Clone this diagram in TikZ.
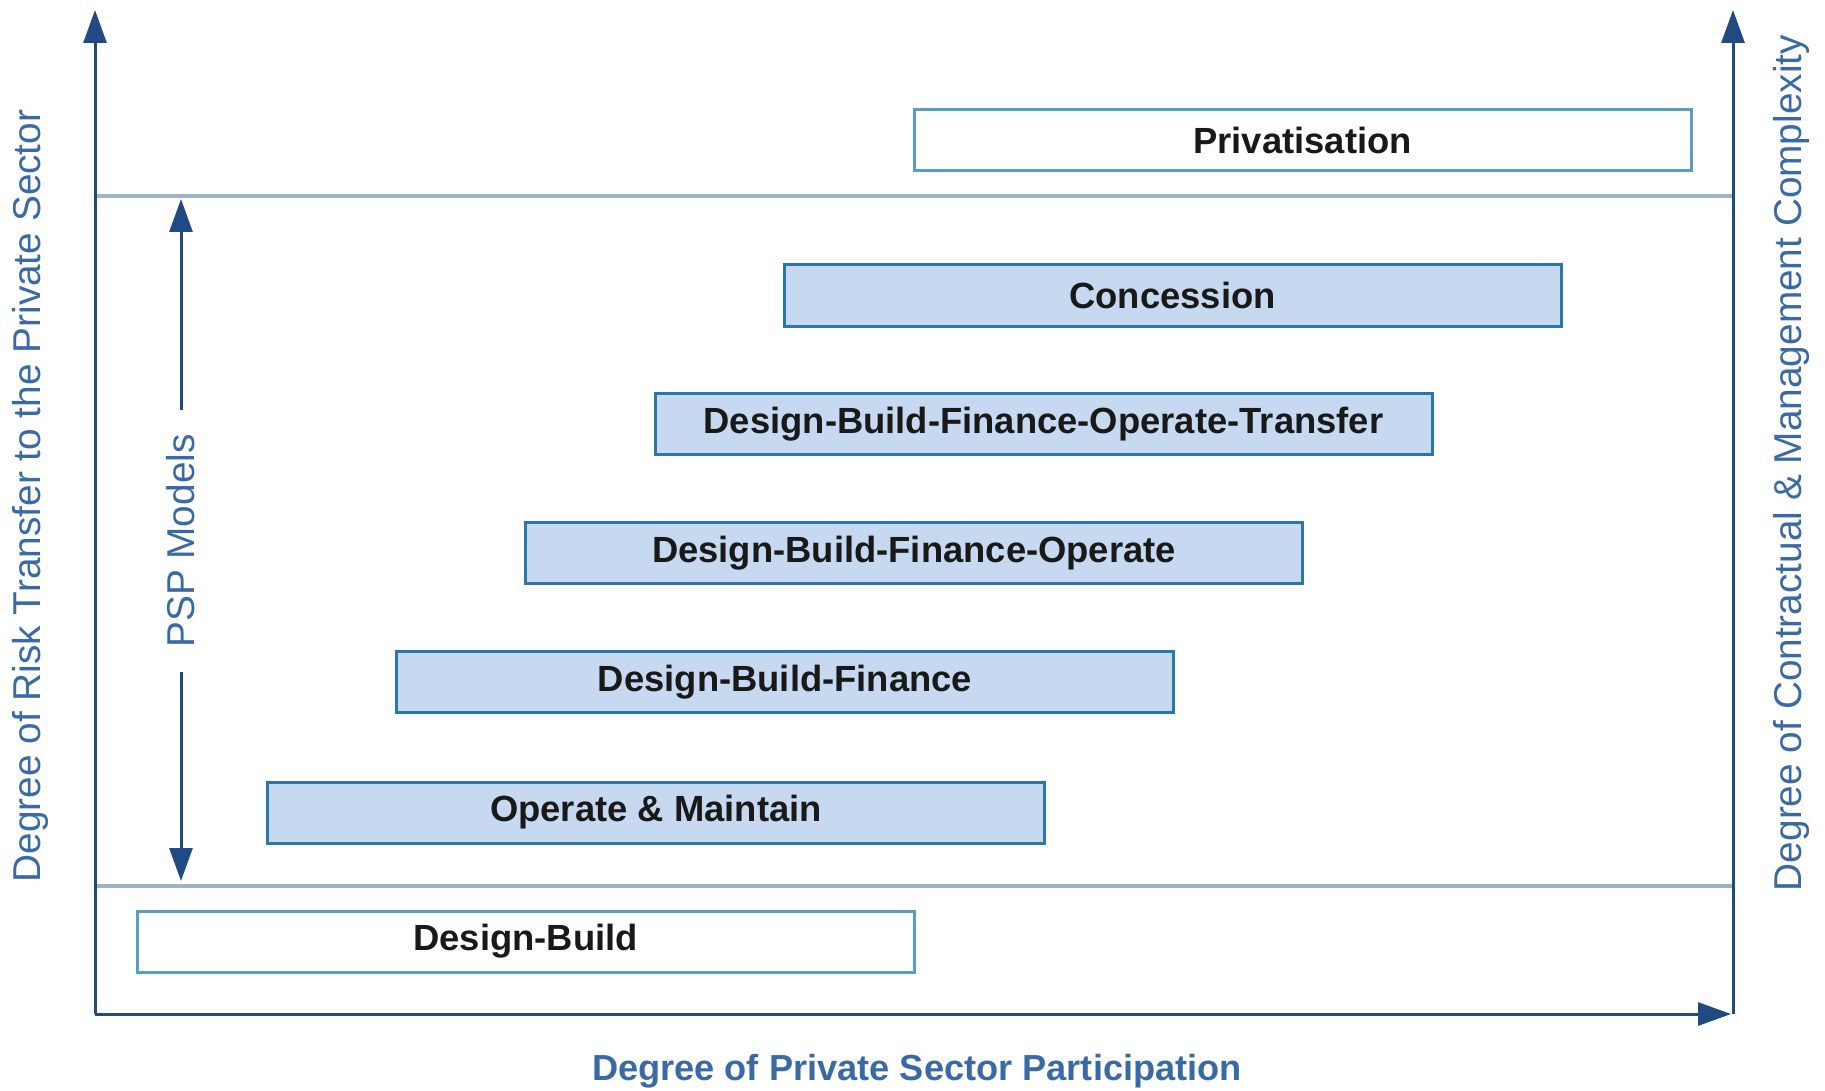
\documentclass[tikz,border=0pt]{standalone}
\usepackage{fontspec}
\setmainfont{Liberation Sans}
\usetikzlibrary{arrows.meta}
\definecolor{axisblue}{HTML}{1F4A82}
\definecolor{labelblue}{HTML}{3A6AA5}
\definecolor{sepgrey}{HTML}{9DB5C2}
\definecolor{boxedge}{HTML}{2A78A8}
\definecolor{boxedgelight}{HTML}{5C9CC0}
\definecolor{boxfill}{HTML}{C6D9F0}
\begin{document}
\begin{tikzpicture}[x=0.5pt,y=-0.5pt,
  axis/.style={draw=axisblue,line width=1.5pt,-{Triangle[length=16.5pt,width=11.5pt]}},
  sepline/.style={draw=sepgrey,line width=2pt},
  model/.style={draw=boxedge,line width=1.5pt,fill=boxfill,minimum width=388.5pt,
    minimum height=30.5pt,inner sep=0pt,font=\fontsize{18.2pt}{20pt}\selectfont\bfseries,text=black!90},
  plainmodel/.style={model,fill=white,draw=boxedgelight},
  sidelabel/.style={text=labelblue,inner sep=0pt,font=\fontsize{19.4pt}{21pt}\selectfont},
  bottomlabel/.style={text=labelblue,inner sep=0pt,font=\fontsize{18.1pt}{20pt}\selectfont\bfseries}]
\useasboundingbox (0,0) rectangle (1825,1091);

% frame corners and arrow ends
\coordinate (origin) at (95,1014);
\coordinate (ytop) at (95,10);
\coordinate (xend) at (1731,1014);
\coordinate (rbase) at (1733,1014);
\coordinate (rtop) at (1733,10);
\coordinate (sepAl) at (95,196);
\coordinate (sepAr) at (1733,196);
\coordinate (sepBl) at (95,886);
\coordinate (sepBr) at (1733,886);
\coordinate (pspTop) at (181,199);
\coordinate (pspBot) at (181,881);

% band separators
\draw[sepline] (sepAl) -- (sepAr);
\draw[sepline] (sepBl) -- (sepBr);

% axes
\draw[axis] (origin) -- (ytop);
\draw[axis] (origin) -- (xend);
\draw[axis] (rbase) -- (rtop);

% models
\node[plainmodel] (priv) at (1302.5,140) {Privatisation};
\node[model] (conc) at (1172.5,295.5) {Concession};
\node[model] (dbfot) at (1043.5,424) {Design-Build-Finance-Operate-Transfer};
\node[model] (dbfo) at (914,553) {Design-Build-Finance-Operate};
\node[model] (dbf) at (785,682) {Design-Build-Finance};
\node[model] (om) at (656,812.5) {Operate \& Maintain};
\node[plainmodel] (db) at (525.5,941.5) {Design-Build};

% PSP range arrow
\node[sidelabel,rotate=90,inner xsep=12pt,inner ysep=0pt] (psp) at (181,541) {PSP Models};
\draw[axis] (psp.east) -- (pspTop);
\draw[axis] (psp.west) -- (pspBot);

% axis titles
\node[sidelabel,rotate=90] (risk) at (30,496) {Degree of Risk Transfer to the Private Sector};
\node[sidelabel,rotate=90] (complex) at (1791,463) {Degree of Contractual \& Management Complexity};
\node[bottomlabel] (part) at (917,1071) {Degree of Private Sector Participation};
\end{tikzpicture}
\end{document}
